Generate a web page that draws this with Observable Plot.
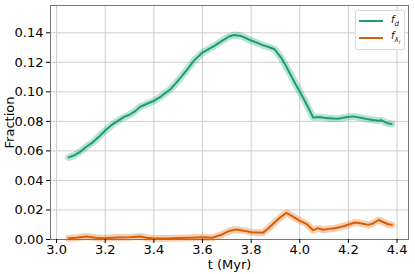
<!DOCTYPE html>
<html>
<head>
<meta charset="utf-8">
<script src="https://cdn.jsdelivr.net/npm/d3@7"></script>
<script src="https://cdn.jsdelivr.net/npm/@observablehq/plot@0.6"></script>
<style>
  html, body { margin: 0; padding: 0; background: #fff; }
  #wrap { position: relative; width: 415px; height: 274px; }
  #wrap svg text { font-size: 13px; font-family: "DejaVu Sans", sans-serif; fill: #000; }
  #legend { position: absolute; left: 355px; top: 10px; width: 48px; height: 38px;
    border: 1px solid #d8d8d8; border-radius: 3px; background: rgba(255,255,255,0.85);
    font-family: "DejaVu Sans", sans-serif; font-size: 10px; color: #111; }
  .row { position: absolute; left: 3px; height: 14px; display: flex; align-items: center; }
  .sw { width: 24px; height: 2px; margin-right: 8px; }
</style>
</head>
<body>
<div id="wrap"></div>
<script>
const fdT = [3.05,3.07,3.095,3.12,3.15,3.175,3.2,3.23,3.26,3.28,3.30,3.32,3.344,3.37,3.40,3.43,3.468,3.49,3.516,3.54,3.564,3.60,3.625,3.647,3.68,3.709,3.73,3.76,3.80,3.83,3.85,3.875,3.896,3.923,3.945,3.965,3.985,4.006,4.025,4.041,4.055,4.08,4.10,4.117,4.14,4.158,4.19,4.22,4.25,4.275,4.30,4.324,4.335,4.35,4.365,4.378];
const fdV = [0.0556,0.0568,0.0592,0.0625,0.066,0.0698,0.0738,0.078,0.0812,0.0832,0.0845,0.0866,0.0899,0.0918,0.0939,0.097,0.1018,0.1058,0.1108,0.1158,0.121,0.1266,0.129,0.131,0.1345,0.1375,0.1385,0.1378,0.1348,0.1328,0.1315,0.1302,0.1289,0.1232,0.117,0.1108,0.1045,0.0984,0.0925,0.0872,0.0826,0.083,0.0824,0.0822,0.0819,0.0818,0.0828,0.0834,0.0825,0.0816,0.081,0.0804,0.0808,0.0795,0.0785,0.0783];
const flT = [3.05,3.08,3.123,3.16,3.192,3.25,3.30,3.344,3.37,3.40,3.45,3.50,3.55,3.606,3.64,3.675,3.71,3.737,3.77,3.80,3.848,3.87,3.896,3.92,3.944,3.965,3.999,4.027,4.055,4.075,4.096,4.12,4.144,4.18,4.227,4.255,4.282,4.30,4.324,4.34,4.36,4.379];
const flV = [0.0009,0.0012,0.0020,0.0012,0.0009,0.0013,0.0015,0.0020,0.0012,0.0006,0.0007,0.0010,0.0012,0.0016,0.0012,0.0030,0.0058,0.0068,0.0060,0.0049,0.0045,0.0075,0.0115,0.0150,0.0180,0.0162,0.0128,0.0106,0.0063,0.0077,0.0066,0.0072,0.0076,0.0090,0.0115,0.0108,0.0099,0.0108,0.0132,0.0120,0.0105,0.0099];
const xTicks = [3.0,3.2,3.4,3.6,3.8,4.0,4.2,4.4];
const yTicks = [0.00,0.02,0.04,0.06,0.08,0.10,0.12,0.14];
const colD = "#1b9e77", colL = "#d95f02";

const fd = fdT.map((t,i) => ({t, v: fdV[i]}));
const fl = flT.map((t,i) => ({t, v: flV[i]}));

const chart = Plot.plot({
  width: 415, height: 274,
  marginLeft: 50, marginTop: 5, marginRight: 7, marginBottom: 35,
  style: {fontFamily: "DejaVu Sans, sans-serif", fontSize: "13px", color: "#000", background: "#fff"},
  x: {domain: [2.975, 4.447]},
  y: {domain: [0, 0.1585]},
  marks: [
    Plot.gridX(xTicks, {stroke: "#cfcfcf", strokeOpacity: 1}),
    Plot.gridY(yTicks, {stroke: "#cfcfcf", strokeOpacity: 1}),
    Plot.line(fd, {x: "t", y: "v", stroke: colD, strokeWidth: 7, strokeOpacity: 0.3}),
    Plot.line(fd, {x: "t", y: "v", stroke: colD, strokeWidth: 2}),
    Plot.line(fl, {x: "t", y: "v", stroke: colL, strokeWidth: 7, strokeOpacity: 0.3}),
    Plot.line(fl, {x: "t", y: "v", stroke: colL, strokeWidth: 2}),
    Plot.frame({stroke: "#777"}),
    Plot.axisX(xTicks, {tickFormat: d3.format(".1f"), tickSize: 4, tickPadding: 1, label: "t (Myr)", labelAnchor: "center", labelArrow: "none", labelOffset: 29}),
    Plot.axisY(yTicks, {tickFormat: d3.format(".2f"), tickSize: 4, tickPadding: 3, label: "Fraction", labelAnchor: "center", labelArrow: "none", labelOffset: 46})
  ]
});
const wrap = document.getElementById("wrap");
wrap.appendChild(chart);
const leg = document.createElement("div");
leg.id = "legend";
leg.innerHTML = `<div class="row" style="top:3px"><div class="sw" style="background:${colD}"></div><span><i>f</i><sub style="font-size:7px"><i>d</i></sub></span></div>
<div class="row" style="top:20px"><div class="sw" style="background:${colL}"></div><span><i>f</i><sub style="font-size:7px"><i>λ<sub style="font-size:5px">l</sub></i></sub></span></div>`;
wrap.appendChild(leg);
</script>
</body>
</html>
